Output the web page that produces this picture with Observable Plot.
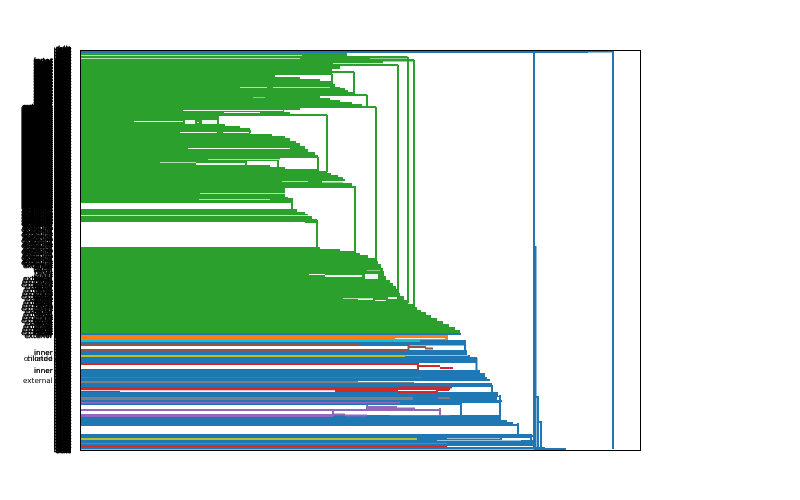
<!DOCTYPE html>
<html><head><meta charset="utf-8">
<style>html,body{margin:0;padding:0;background:#fff}svg{display:block}svg g[aria-label="text"]{filter:grayscale(1)}</style>
<script src="https://cdn.jsdelivr.net/npm/d3@7"></script>
<script src="https://cdn.jsdelivr.net/npm/@observablehq/plot@0.6"></script>
</head><body><div id="chart"></div>
<script>
const GREEN="#2ca02c",BLUE="#1f77b4",ORANGE="#ff7f0e",RED="#d62728",PURPLE="#9467bd",BROWN="#8c564b",GREY="#7f7f7f",OLIVE="#bcbd22",TEAL="#17becf";

// clustered leaves: [rowTop, rowBottom, reach]
const greenRows=[[53,56,347],[56,58,407],[58,59,370],[59,61,414],[61,64,383],[64,66,398],[66,69,340],[69,71,332],[71,73,354],[73,75,332],[75,77,275],[77,79,300],[79,81,320],[81,84,332],[84,87,335],[87,88,340],[88,90,345],[90,92,348],[92,94,355],[94,96,367],[96,98,320],[98,100,330],[100,102,340],[102,104,352],[104,106,362],[106,108,376],[108,110,300],[110,112,284],[112,114,290],[114,116,327],[116,124,219],[124,126,225],[126,128,240],[128,134,250],[134,136,272],[136,138,285],[138,141,290],[141,143,296],[143,146,300],[146,149,305],[149,152,308],[152,155,315],[155,158,318],[158,160,280],[160,161,278],[161,165,247],[165,167,270],[167,169,285],[169,171,317],[171,173,327],[173,175,331],[175,177,338],[177,179,343],[179,181,345],[181,183,343],[183,186,352],[186,188,355],[188,197,285],[197,198,288],[198,203,292],[209,212,297],[212,214,305],[214,216,308],[216,219,312],[219,222,317],[247,249,320],[249,251,340],[251,253,355],[253,255,360],[255,258,368],[258,261,375],[261,264,378],[264,268,381],[268,271,383],[271,276,384],[276,280,386],[280,283,390],[283,286,393],[286,289,396],[289,293,398],[293,296,400],[296,300,404],[300,304,408],[304,307,413],[307,310,417],[310,312,421],[312,315,426],[315,318,431],[318,321,437],[321,324,443],[324,327,449],[327,330,455],[330,333,460]];

// blue cluster: [rowTop, rowBottom, reach]
const blueRows=[[50,53,533],[333,335,461],[340,344,464],[344,345.5,465],[350,355,467],[355,357,470],[357,363,477],[370,373,480],[373,377,485],[377,379,487],[379,381,490],[383,387,492],[392,396,498],[396,397,500],[397,400,497],[400,402,502],[402,405,461],[415,417,500],[417,420,501],[420,422,507],[422,424,513],[424,426,517],[434,438,532],[438,440,501],[440,446,533],[446,447,447],[447,448,545],[448,449.5,560]];

// coloured sub-clusters over the blue: [rowTop, rowBottom, reach, colour]
const accentRows=[[335,340,448,ORANGE],[340,342,420,TEAL],[344,346,360,BROWN],[355,357,405,OLIVE],[363,365,418,RED],[369,370,418,RED],[377,378,422,GREEN],[381,383,414,GREY],[387,390,450,RED],[390,392,398,RED],[397,400,413,GREY],[402,403.5,400,PURPLE],[409,411,333,PURPLE],[414,417,333,PURPLE],[438,440,417,OLIVE],[443,444,447,GREY],[446,447,447,RED]];

// pale slits between leaves: [rowTop, rowBottom, from, to]
const slits=[[55,55.7,81,302],[58,58.7,81,300],[63,63.8,333,383],[87,87.7,240,267],[87,87.7,273,330],[97,97.5,253,265],[110,111,183,283],[112,113,224,260],[121,122,134,183],[120,124,185,195],[122,123,197,199],[120,124,202,218],[132,133,180,217],[132,133,223,250],[148,149,188,290],[159,159.7,208,280],[162,162.7,160,196],[163,165,196,245],[181,181.7,282,308],[181,182.5,322,343],[193,193.7,200,287],[199,199.7,199,270],[215,215.8,81,308],[274,275,309,325],[275,277,325,362],[274,279,365,378],[270.5,271,367,380],[298,298.7,343,373],[299,300,358,373],[300,301,375,386],[297,299,388,397],[355,355.6,405,468],[381,382,358,500],[338,339,395,445],[390,390.8,81,335],[391,392,120,335],[438,438.6,447,501],[440,440.6,437,521],[446,447,477,533]];

// horizontal links: [row, from, to, colour]
const hLinks=[[51.5,533,613,BLUE],[52,533,588,BLUE],[57.5,347,408,GREEN],[60.5,383,414,GREEN],[65,340,398,GREEN],[72,332,354,GREEN],[95,355,367,GREEN],[107,362,376,GREEN],[115,290,327,GREEN],[187,352,355,GREEN],[222,305,317,GREEN],[345,360,408,BLUE],[347,408,426,BROWN],[348.5,425,433,BROWN],[350,81,408,BROWN],[366,418,440,RED],[368,440,453,RED],[387.5,398,452,RED],[392,398,437,RED],[390,437,448,RED],[402,461,500,BLUE],[407,367,397,PURPLE],[408.5,367,415,PURPLE],[410,333,440,PURPLE],[416,390,440,PURPLE],[416,441,450,PURPLE],[414.5,333,345,PURPLE],[415.5,345,367,PURPLE],[417,367,461,BLUE],[398,438,450,GREY],[397,536,539,BLUE],[422,539,542,BLUE],[436,531,533,BLUE],[449,534,566,BLUE]];

// vertical links: [column, from, to, colour]
const vLinks=[[414,60,307,GREEN],[408,57,303,GREEN],[398,65,293,GREEN],[376,107,262,GREEN],[355,186,253,GREEN],[327,115,172,GREEN],[318,157,171,GREEN],[317,220,247,GREEN],[354,72,96,GREEN],[367,95,107,GREEN],[332,74,85,GREEN],[278,160,168,GREEN],[218,117,125,GREEN],[292,198,210,GREEN],[250,130,133,GREEN],[408.5,344,350,BROWN],[418,363,370,RED],[437,387,392,RED],[448,387,391,RED],[367,405,410,PURPLE],[440,408,416,PURPLE],[333,411,416,PURPLE],[465,340,352,BLUE],[476.5,358,372,BLUE],[492,385,394,BLUE],[461,402,417,BLUE],[465,415,417,BLUE],[500,395,420,BLUE],[518,423,435,BLUE],[531,436,445,BLUE],[534,52,449,BLUE],[535.5,246,448,BLUE],[538,397,448,BLUE],[541,422,447,BLUE],[613,51,449,BLUE],[501,435,440,BLUE]];

// leaf labels: [rowFirst, rowLast, rowsPerLabel, words]
const shortWords=["cells","duct","lobe","hair","skin","bone"];
const shortBlock=[[48,451,0.5,shortWords]];
const innerWords=["inner cells","outer cells","basal cells","renal cells","liver cells"];
const outerWords=["external cells","exocrine cells","extensor cells","exterior cells"];
const labelBlocks=[[60,105,0.6,innerWords],[106,206,0.5,outerWords],[206,226,0.8,outerWords],[226,266,1.4,outerWords],[266,300,1.8,innerWords],[278,336,3,outerWords],[300,336,1.8,innerWords]];
const singleLabels=[[352,"inner cells"],[352.4,"inner cells"],[358,"ciliated cells"],[358.5,"chloride cells"],[370,"inner cells"],[370.4,"inner cells"],[380,"external cells"]];

const expand=blocks=>blocks.flatMap(([a,b,s,w])=>d3.range(a,b,s).map((r,i)=>({r,t:w[i%w.length]})));
const shortRows=expand(shortBlock);
const longRows=expand(labelBlocks);
const looseRows=singleLabels.map(([r,t])=>({r,t}));

const textOpts=(extra)=>({x:()=>70.5,y:d=>d.r,text:d=>d.t,textAnchor:"end",fontSize:7.2,fontFamily:"DejaVu Sans",fill:"#000",...extra});
const rectMark=(rows,fill)=>Plot.rect(rows,{x1:()=>80,x2:d=>d[2],y1:d=>d[0],y2:d=>d[1],fill});

const chart=Plot.plot({
  width:800,height:500,marginLeft:80,marginRight:160,marginTop:50,marginBottom:50,
  x:{domain:[80,640],axis:null},
  y:{domain:[50,450],range:[50,450],axis:null},
  style:{background:"#fff"},
  marks:[
    rectMark(greenRows,GREEN),
    rectMark(blueRows,BLUE),
    Plot.rect(accentRows,{x1:()=>81,x2:d=>d[2],y1:d=>d[0],y2:d=>d[1],fill:d=>d[3]}),
    Plot.rect(slits,{x1:d=>d[2],x2:d=>d[3],y1:d=>d[0],y2:d=>d[1],fill:"#fff",fillOpacity:0.92}),
    Plot.ruleY(hLinks,{y:d=>d[0],x1:d=>d[1],x2:d=>d[2],stroke:d=>d[3],strokeWidth:2,dy:-0.5}),
    Plot.ruleX(vLinks,{x:d=>d[0],y1:d=>d[1],y2:d=>d[2],stroke:d=>d[3],strokeWidth:2,dx:-0.5}),
    Plot.text(longRows,textOpts({stroke:"#000",strokeWidth:0.45})),
    Plot.text(looseRows,textOpts({})),
    Plot.text(shortRows,textOpts({stroke:"#000",strokeWidth:0.5,fontSize:6.9})),
    Plot.frame({stroke:"#000",strokeWidth:1,fill:"none"})
  ]
});
document.getElementById("chart").append(chart);
</script></body></html>
